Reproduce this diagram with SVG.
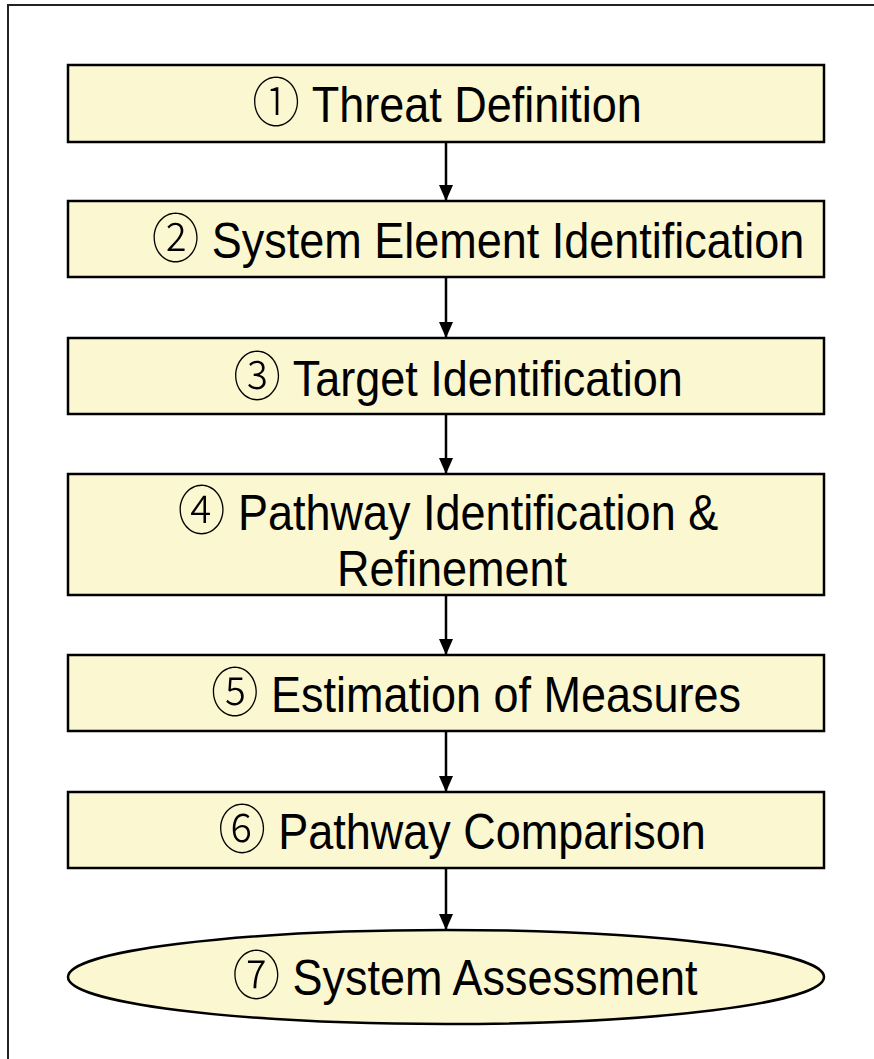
<svg xmlns="http://www.w3.org/2000/svg" width="874" height="1059" viewBox="0 0 874 1059">
<style>
.box{fill:#FBF7D0;stroke:#000;stroke-width:2.5}
.t{font-family:"Liberation Sans",Arial,sans-serif;font-size:50px;fill:#000;text-anchor:middle}
.n{font-family:"Noto Sans CJK JP","DejaVu Sans",serif;font-weight:300;font-size:53px}
.c{stroke:#000;stroke-width:2.5;fill:none;marker-end:url(#ah)}
</style>
<defs>
<marker id="ah" viewBox="0 0 16 14" refX="16" refY="7" markerWidth="16" markerHeight="14" markerUnits="userSpaceOnUse" orient="auto">
<path d="M0,0 L16,7 L0,14 Z" fill="#000"/>
</marker>
</defs>
<rect width="874" height="1059" fill="#fff"/>
<path d="M8,1059 V5 H874" fill="none" stroke="#222" stroke-width="2"/>
<g id="connectors">
<line class="c" x1="446" y1="142" x2="446" y2="201"/>
<line class="c" x1="446" y1="277" x2="446" y2="338"/>
<line class="c" x1="446" y1="414" x2="446" y2="474"/>
<line class="c" x1="446" y1="595" x2="446" y2="655"/>
<line class="c" x1="446" y1="731" x2="446" y2="792"/>
<line class="c" x1="446" y1="868" x2="446" y2="930"/>
</g>
<g id="n1"><rect class="box" x="68" y="65" width="756" height="77"/><text class="t" transform="translate(447,122) scale(0.9,1)"><tspan class="n">①</tspan> Threat Definition</text></g>
<g id="n2"><rect class="box" x="68" y="201" width="756" height="76"/><text class="t" transform="translate(478,258) scale(0.9,1)"><tspan class="n">②</tspan> System Element Identification</text></g>
<g id="n3"><rect class="box" x="68" y="338" width="756" height="76"/><text class="t" transform="translate(458,396) scale(0.9,1)"><tspan class="n">③</tspan> Target Identification</text></g>
<g id="n4"><rect class="box" x="68" y="474" width="756" height="121"/><text class="t" transform="translate(448,530) scale(0.9,1)"><tspan class="n">④</tspan> Pathway Identification &amp;</text><text class="t" transform="translate(452,586) scale(0.9,1)">Refinement</text></g>
<g id="n5"><rect class="box" x="68" y="655" width="756" height="76"/><text class="t" transform="translate(476,712) scale(0.9,1)"><tspan class="n">⑤</tspan> Estimation of Measures</text></g>
<g id="n6"><rect class="box" x="68" y="792" width="756" height="76"/><text class="t" transform="translate(462,849) scale(0.9,1)"><tspan class="n">⑥</tspan> Pathway Comparison</text></g>
<g id="n7"><ellipse class="box" cx="446" cy="977" rx="378" ry="47"/><text class="t" transform="translate(465,995) scale(0.9,1)"><tspan class="n">⑦</tspan> System Assessment</text></g>
</svg>
